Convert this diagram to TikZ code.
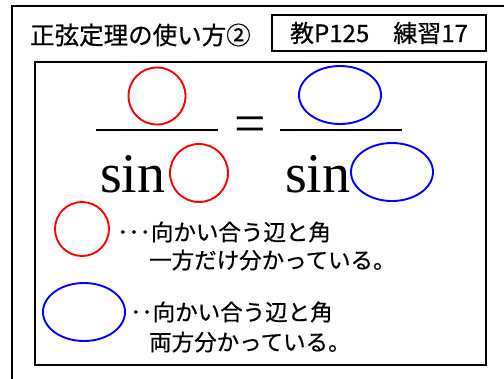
\documentclass[tikz,border=0pt]{standalone}
\usepackage{fontspec}
\setmainfont{Liberation Serif}
\newfontfamily\jpfont[FakeBold=0.6]{Noto Sans CJK JP}
\usetikzlibrary{positioning,shapes.geometric}
\tikzset{
  redmark/.style={draw=red, line width=1.9bp, ellipse, inner sep=0pt},
  bluemark/.style={draw=blue, line width=1.9bp, ellipse, inner sep=0pt},
  jptext/.style={font=\jpfont\fontsize{22.5bp}{27bp}\selectfont, inner sep=0pt},
  bigserif/.style={font=\fontsize{56bp}{60bp}\selectfont, inner sep=0pt},
  fracbar/.style={line width=2.2bp}
}

\begin{document}
\begin{tikzpicture}[x=1bp, y=-1bp]
  \useasboundingbox (0,0) rectangle (504,378);
  % outer frame (runs off the page on the right and bottom)
  \draw[line width=2bp] (12,395) -- (12,6) -- (520,6);
  \node[jptext, font=\jpfont\fontsize{24.5bp}{28bp}\selectfont, anchor=west] (title) at (30,35) {正弦定理の使い方②};
  \node[draw, line width=1.6bp, minimum width=214bp, minimum height=36bp, jptext, font=\jpfont\fontsize{24bp}{28bp}\selectfont] (ref) at (379,33) {教P125　練習17};
  % formula box
  \draw[line width=2.5bp] (35,62) rectangle (486,365);

  % the fraction
  \node[redmark, minimum width=57bp, minimum height=57bp] (numL) at (157,96) {};
  \node[bluemark, minimum width=82bp, minimum height=58bp] (numR) at (340,95) {};
  \draw[fracbar] (96,130) -- (218,130);
  \draw[fracbar] (280,130) -- (402,130);
  \node[bigserif] (eq) at (250,129.5) {=};
  \node[bigserif, anchor=base west] (sinL) at (100,192) {sin};
  \node[bigserif, anchor=base west] (sinR) at (285,192) {sin};
  \node[redmark, minimum width=58bp, minimum height=58bp] (denL) at (199,173) {};
  \node[bluemark, minimum width=82bp, minimum height=58bp] (denR) at (392,172) {};

  % what the marks stand for
  \node[redmark, minimum width=54bp, minimum height=54bp] (keyR) at (82,229) {};
  \node[jptext, anchor=west] (keyRa) at (117,232) {･･･向かい合う辺と角};
  \node[jptext, anchor=west] (keyRb) at (149,260) {一方だけ分かっている。};
  \node[bluemark, minimum width=82bp, minimum height=58bp] (keyB) at (84,312) {};
  \node[jptext, anchor=west] (keyBa) at (130,312) {･･向かい合う辺と角};
  \node[jptext, anchor=west] (keyBb) at (149,342) {両方分かっている。};
\end{tikzpicture}
\end{document}
